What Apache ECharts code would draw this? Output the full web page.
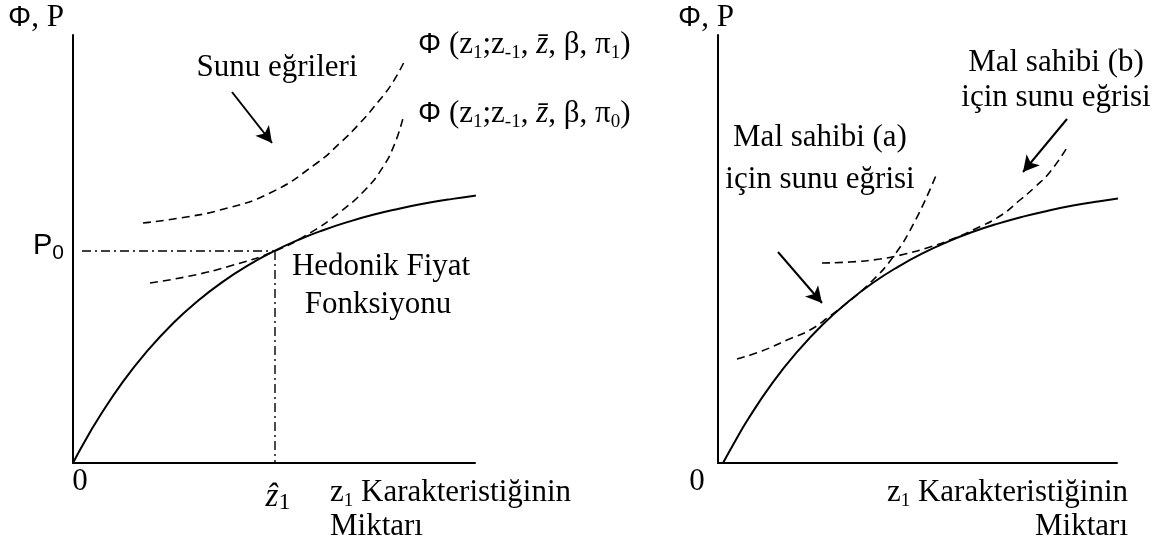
<!DOCTYPE html>
<html>
<head>
<meta charset="utf-8">
<title>Hedonik Fiyat Fonksiyonu ve Sunu Eğrileri</title>
<script src="https://cdn.jsdelivr.net/npm/echarts@6/dist/echarts.min.js"></script>
<style>
  html, body { margin: 0; padding: 0; background: #fff; }
  #chart { width: 1173px; height: 551px; }
</style>
</head>
<body>
<div id="chart"></div>
<script>
// ---- Left panel: hedonic price function and two bid curves ----
// x: amount of characteristic z1, y: Φ, P (arbitrary units)
const hedonicLeft = [[0,0],[10,18.5],[25,44],[50,81.4],[75,112.9],[100,139.7],[125,162.3],[150,181.4],[175,197.6],[200,211.3],[225,223],[250,232.8],[275,241.1],[300,248.2],[325,254.1],[350,259.2],[375,263.4],[400,267.1],[425,270.1]];
const bidHighLeft = [[70,240],[107,245],[147,253],[197,270],[244,300],[267,320],[287,340],[305,361],[320,381],[332,403]];
const bidLowLeft  = [[77,180],[117,187],[157,197],[202,212],[237,230],[267,251],[292,273],[310,296],[322,320],[330,345]];
const zHat = 202;       // optimal z1
const p0 = 212;         // equilibrium price P0
const p0LineStart = 9;
const arrowLeft = [[159,371],[199,320]];

// ---- Right panel: hedonic function and bid curves of two owners ----
const hedonicRight = [[5,0],[15,18],[30,43.7],[55,80.8],[80,112.1],[105,138.8],[130,161.1],[155,180.2],[180,196.2],[205,209.9],[230,221.4],[255,231.2],[280,239.4],[305,246.4],[330,252.3],[355,257.4],[380,261.6],[405,265.2],[430,268.2]];
const bidOwnerA = [[19,104],[44,112],[69,123],[92,133],[112,147],[129,160],[152,180],[175,206],[197,242],[219,290]];
const bidOwnerB = [[104,200],[132,201],[162,204],[187,209],[212,216],[237,225],[257,234],[282,247],[302,263],[317,276],[332,291],[350,317]];
const arrowOwnerA = [[60,211],[104,160]];
const arrowOwnerB = [[349,344],[305,291]];

const SERIF = '"Liberation Serif", "Times New Roman", serif';
const SANS = '"Liberation Sans", Arial, sans-serif';
const INK = '#000';

const dashed = { color: INK, width: 1.6, type: [8, 5] };
const solid = { color: INK, width: 2 };
const dashDot = { color: INK, width: 1.4, type: [9, 4, 2, 4] };

function curve(data, xi, lineStyle, extra) {
  return Object.assign({
    type: 'line', xAxisIndex: xi, yAxisIndex: xi, data: data,
    smooth: 0.5, showSymbol: false, symbol: 'none', clip: false,
    lineStyle: lineStyle, silent: true, animation: false, z: 3
  }, extra || {});
}

function arrow(pair) {
  return {
    silent: true, animation: false,
    symbol: ['none', 'arrow'], symbolSize: [13, 16],
    lineStyle: { color: INK, width: 2, type: 'solid' },
    label: { show: false },
    data: [[{ coord: pair[0] }, { coord: pair[1] }]]
  };
}

function axisPair(max, gi) {
  return {
    type: 'value', gridIndex: gi, min: 0, max: max,
    axisLine: { show: true, onZero: false, lineStyle: { color: INK, width: 2 } },
    axisTick: { show: false }, axisLabel: { show: false }, splitLine: { show: false }
  };
}

// rich text styles shared by labels
const rich = {
  t:   { fontFamily: SERIF, fontSize: 31, lineHeight: 36, color: INK },
  ti:  { fontFamily: SERIF, fontSize: 31, lineHeight: 36, fontStyle: 'italic', color: INK },
  sub: { fontFamily: SERIF, fontSize: 19, lineHeight: 19, verticalAlign: 'bottom', color: INK },
  zh:  { fontFamily: SERIF, fontSize: 33, lineHeight: 36, fontStyle: 'italic', color: INK },
  zs:  { fontFamily: SERIF, fontSize: 24, lineHeight: 24, verticalAlign: 'bottom', color: INK },
  phi: { fontFamily: SANS, fontSize: 29, lineHeight: 36, color: INK },
  p:   { fontFamily: SANS, fontSize: 29, lineHeight: 36, color: INK },
  ps:  { fontFamily: SANS, fontSize: 21, lineHeight: 21, verticalAlign: 'bottom', color: INK }
};

function label(text, x, y, align) {
  return {
    type: 'text', x: x, y: y, silent: true, z: 10,
    style: {
      text: text, rich: rich, fill: INK,
      font: '31px ' + SERIF,
      align: align || 'left', verticalAlign: 'middle'
    }
  };
}

const phiLabel = (k) => '{phi|Φ}{t| (z}{sub|1}{t|;z}{sub|-1}{t|, }{ti|z̄}{t|, β, π}{sub|' + k + '}{t|)}';
const z1Axis = '{t|z}{sub|1}{t| Karakteristiğinin}';

const chart = echarts.init(document.getElementById('chart'), null, { renderer: 'canvas' });

chart.setOption({
  animation: false,
  backgroundColor: '#fff',
  grid: [
    { left: 73, top: 35, width: 402, height: 428 },
    { left: 718, top: 35, width: 399, height: 428 }
  ],
  xAxis: [axisPair(402, 0), axisPair(399, 1)],
  yAxis: [axisPair(428, 0), axisPair(428, 1)],
  series: [
    curve(hedonicLeft, 0, solid, { markLine: arrow(arrowLeft) }),
    curve(bidHighLeft, 0, dashed),
    curve(bidLowLeft, 0, dashed),
    curve([[p0LineStart, p0], [zHat, p0]], 0, dashDot, { smooth: false }),
    curve([[zHat, p0], [zHat, 0]], 0, dashDot, { smooth: false }),

    curve(hedonicRight, 1, solid, { markLine: arrow(arrowOwnerA) }),
    curve(bidOwnerA, 1, dashed),
    curve(bidOwnerB, 1, dashed, { markLine: arrow(arrowOwnerB) })
  ],
  graphic: [
    // left panel
    label('{phi|Φ}{t|, P}', 8, 18),
    label('{t|Sunu eğrileri}', 277, 68, 'center'),
    label(phiLabel(1), 418, 45),
    label(phiLabel(0), 418, 114),
    label('{p|P}{ps|0}', 64, 246, 'right'),
    label('{t|Hedonik Fiyat}', 381, 267, 'center'),
    label('{t|Fonksiyonu}', 378, 305, 'center'),
    label('{t|0}', 80, 482, 'center'),
    label('{zh|ẑ}{zs|1}', 278, 497, 'center'),
    label(z1Axis, 330, 493),
    label('{t|Miktarı}', 330, 527),
    // right panel
    label('{phi|Φ}{t|, P}', 678, 18),
    label('{t|Mal sahibi (b)}', 1056, 63, 'center'),
    label('{t|için sunu eğrisi}', 1056, 98, 'center'),
    label('{t|Mal sahibi (a)}', 820, 138, 'center'),
    label('{t|için sunu eğrisi}', 820, 180, 'center'),
    label('{t|0}', 697, 482, 'center'),
    label(z1Axis, 1128, 493, 'right'),
    label('{t|Miktarı}', 1128, 527, 'right')
  ]
});
</script>
</body>
</html>
